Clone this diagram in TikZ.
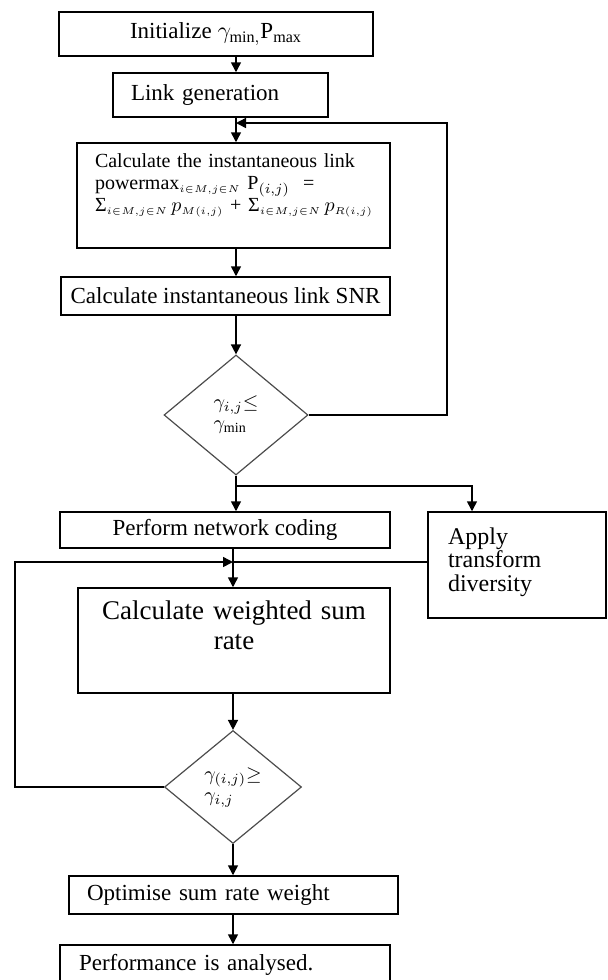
\documentclass[tikz,border=0pt]{standalone}
\usepackage{fontspec}
\setmainfont{Liberation Serif}
\usetikzlibrary{shapes.geometric,arrows.meta}
\tikzset{
    stepbox/.style={
        rectangle,
        draw=black, % 黑色实线边框
        line width=0.75pt,
        inner xsep=9pt,
        inner ysep=0pt,
        font=\fontsize{11.5}{13.5}\selectfont
    },
    decision/.style={
        diamond,
        draw=black!70, % 判断框用灰色细线
        line width=0.6pt,
        inner sep=0,
        align=left,
        font=\fontsize{10}{10.5}\selectfont
    },
    flowarrow/.style={
        -{Triangle[length=5pt,width=5pt]}, % 实心三角箭头
        line width=0.75pt
    }
}

\begin{document}
\begin{tikzpicture}[x=0.5pt,y=-0.5pt]
    \useasboundingbox (0,0) rectangle (608,980);
    \clip (0,0) rectangle (608,980);
    % 上半部分
    \node[stepbox, minimum width=157pt, minimum height=22pt, align=center] (init) at (216,34)
        {Initialize $\gamma_{\mathrm{min},}$P$_{\mathrm{max}}$};
    \node[stepbox, text width=89.5pt, align=left, minimum height=22pt] (link) at (220.5,95)
        {Link generation};
    \node[stepbox, text width=138.5pt, align=left, minimum height=52.5pt,
          font=\fontsize{10}{11}\selectfont] (calcpow) at (233.5,195.5)
        {Calculate the instantaneous link\\
         powermax$_{\scriptscriptstyle i\in M,j\in N}$ P$_{(i,j)}$ \ =\\
         \mbox{Σ$_{\scriptscriptstyle i\in M,j\in N}\,p_{\scriptscriptstyle M(i,j)}$ +
               Σ$_{\scriptscriptstyle i\in M,j\in N}\,p_{\scriptscriptstyle R(i,j)}$}\\[2pt]\mbox{}};
    \node[stepbox, inner xsep=4pt, minimum width=164.5pt, minimum height=19pt] (snr) at (225.5,296)
        {Calculate instantaneous link SNR};
    \node[decision, minimum width=72pt, minimum height=60pt] (test1) at (236,415)
        {$\gamma_{i,j}{\leq}$\\$\gamma_{\min}$};
    % 下半部分
    \node[stepbox, minimum width=165pt, minimum height=18pt] (netcode) at (225,530)
        {Perform network coding};
    \node[stepbox, text width=69pt, inner xsep=10pt, align=left, minimum height=53pt,
          font=\fontsize{12}{11.75}\selectfont] (apply) at (517,565)
        {Apply\\transform\\diversity\\[-6pt]\mbox{}};
    \node[stepbox, text width=140pt, inner xsep=8pt, align=center, minimum height=52.5pt,
          font=\fontsize{13.5}{15}\selectfont] (sumrate) at (234,640.5)
        {Calculate weighted sum\\rate\\[0pt]\mbox{}};
    \node[decision, minimum width=68.5pt, minimum height=56.5pt] (test2) at (233,787)
        {$\gamma_{(i,j)}{\geq}$\\$\gamma_{i,j}$};
    \node[stepbox, text width=146.5pt, align=left, minimum height=19pt] (optim) at (233.5,895)
        {Optimise sum rate weight};
    \node[stepbox, text width=146pt, inner xsep=9.5pt, align=left, minimum height=20pt] (perf) at (225,965)
        {Performance is analysed.};

    \coordinate (join1) at (236,123);
    \coordinate (back1) at (447,123);
    \coordinate (split) at (236,486);
    \coordinate (fork) at (472,486);
    \coordinate (join2) at (233,562);
    \coordinate (back2) at (15,562);

    \draw[flowarrow] (init.south -| test1) -- (link.north -| test1);
    \draw[flowarrow] (link.south -| test1) -- (calcpow.north -| test1);
    \draw[flowarrow] (calcpow.south -| test1) -- (snr.north -| test1);
    \draw[flowarrow] (snr.south -| test1) -- (test1.north);
    \draw[flowarrow] (test1.east) -| (back1) -- (join1);
    \draw[flowarrow] (test1.south) -- (netcode.north -| test1);
    \draw[flowarrow] (split) -- (fork) -- (fork |- apply.north);
    \draw[flowarrow] (netcode.south -| test2) -- (sumrate.north -| test2);
    \draw[flowarrow] (test2.west) -| (back2) -- (join2);
    \draw[line width=0.75pt] (apply.west |- join2) -- (join2);
    \draw[flowarrow] (sumrate.south -| test2) -- (test2.north);
    \draw[flowarrow] (test2.south) -- (optim.north -| test2);
    \draw[flowarrow] (optim.south -| test2) -- (perf.north -| test2);
\end{tikzpicture}
\end{document}
